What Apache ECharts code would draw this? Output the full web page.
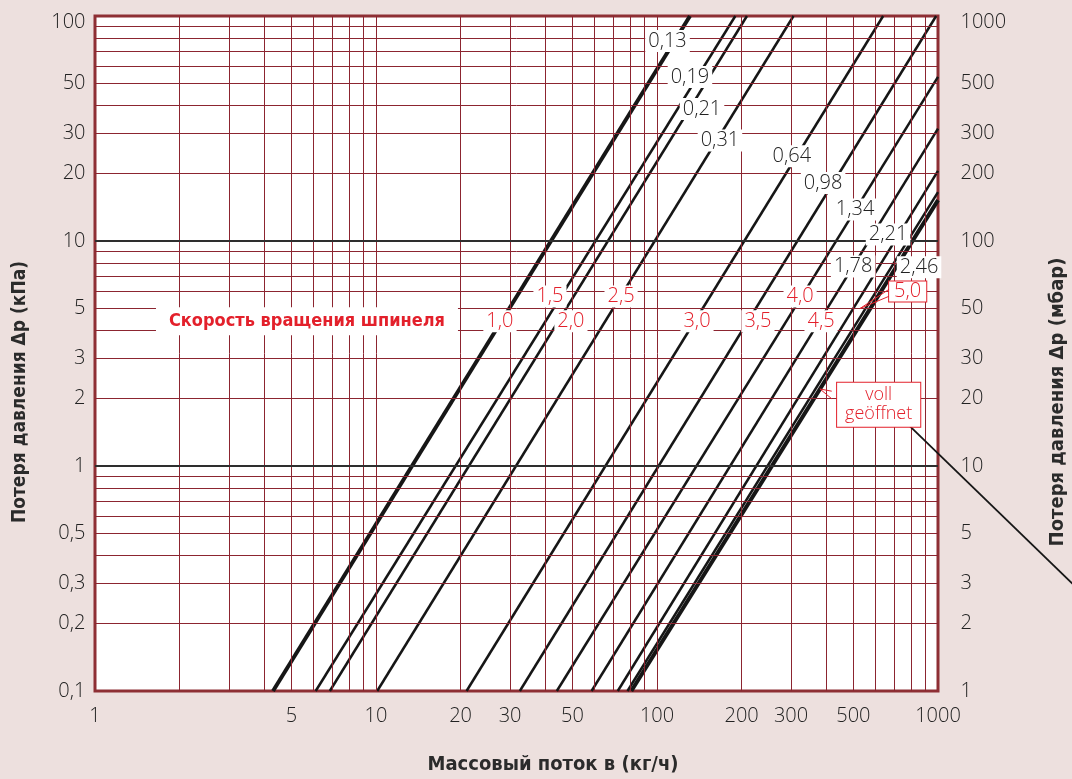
<!DOCTYPE html>
<html><head><meta charset="utf-8">
<script src="https://cdn.jsdelivr.net/npm/echarts@6/dist/echarts.min.js"></script>
<style>html,body{margin:0;padding:0;background:#ede0de;}#c{width:1072px;height:779px;}</style>
</head><body><div id="c"></div>
<script>
// ---- data ----
const xTicks = [1, 5, 10, 20, 30, 50, 100, 200, 300, 500, 1000];
const xTickLabels = ['1', '5', '10', '20', '30', '50', '100', '200', '300', '500', '1000'];
const yLeftTicks = [100, 50, 30, 20, 10, 5, 3, 2, 1, 0.5, 0.3, 0.2, 0.1];
const yLeftLabels = ['100', '50', '30', '20', '10', '5', '3', '2', '1', '0,5', '0,3', '0,2', '0,1'];
const yRightTicks = [1000, 500, 300, 200, 100, 50, 30, 20, 10, 5, 3, 2, 1];
const yRightLabels = ['1000', '500', '300', '200', '100', '50', '30', '20', '10', '5', '3', '2', '1'];

const gridX = [2,3,4,5,6,7,8,9,10,20,30,40,50,60,70,80,90,100,200,300,400,500,600,700,800,900];
const gridY = [0.2,0.3,0.4,0.5,0.6,0.7,0.8,0.9,2,3,4,5,6,7,8,9,20,30,40,50,60,70,80,90];
const gridYDark = [1, 10];

// Kv lines: start and end points (flow kg/h, Δp kPa)
const kvNames = ['0,13', '0,19', '0,21', '0,31', '0,64', '0,98', '1,34', '1,78', '2,21', '2,46', 'voll geöffnet'];
const lineStart = [[4.3,0.1],[6.1,0.1],[6.85,0.1],[10.1,0.1],[21,0.1],[32.5,0.1],[44,0.1],[58.5,0.1],[72.5,0.1],[78.5,0.1],[81,0.1]];
const lineEnd = [[131,100],[190,100],[209,100],[306,100],[638,100],[985,100],[1000,53.6],[1000,31.6],[1000,20.5],[1000,16.5],[1000,15.2]];

// label anchors (flow, Δp)
const kvLabelText = ['0,13', '0,19', '0,21', '0,31', '0,64', '0,98', '1,34', '2,21', '1,78', '2,46'];
const kvLabelPos = [[109,77.4],[131,53.5],[144.6,38.6],[167.5,28.0],[302,23.8],[390,18.1],[507,13.8],[664,10.7],[499,7.71],[856,7.64]];
const turnText = ['1,0', '1,5', '2,0', '2,5', '3,0', '3,5', '4,0', '4,5'];
const turnPos = [[27.6,4.40],[41.6,5.67],[49.4,4.40],[74.5,5.67],[138.8,4.40],[228.7,4.40],[323,5.67],[383.5,4.40]];
const fiveText = '5,0';
const fivePos = [780, 5.96];
const fiveTail = [[669.5,6.10],[527.5,5.01],[669.5,5.68]];
const vollText = 'voll\ngeöffnet';
const vollPos = [615, 1.87];
const vollTail = [[418.6,2.15],[380,2.20],[418.6,1.99]];
const vollLeader = [[782,1.53],[3475,0.252]];
const spindleText = 'Скорость вращения шпинеля';
const spindlePos = [5.68, 4.40];

const xTitle = 'Массовый поток в (кг/ч)';
const yLeftTitle = 'Потеря давления Δp (кПа)';
const yRightTitle = 'Потеря давления Δp (мбар)';

// ---- layout & styles ----
const W = 1072, H = 779;
const GL = 95, GR = 938, GT = 16, GB = 691;
const RED = '#e3202b';
const GRIDRED = '#8c2530';
const NUMFONT = "'Open Sans', 'DejaVu Sans', sans-serif";
const NUMWEIGHT = 300;
const TITLEFONT = "'Liberation Sans Narrow', 'DejaVu Sans Condensed', sans-serif";
const thick = [0, 10];

const series = [];
series.push({
  type: 'line', data: [[1, 0.1]], symbol: 'none', lineStyle: { width: 0 }, silent: true, z: 1,
  markLine: {
    silent: true, symbol: ['none', 'none'], label: { show: false }, animation: false,
    lineStyle: { color: GRIDRED, width: 1, type: 'solid', opacity: 1 },
    emphasis: { disabled: true },
    data: [
      ...gridX.map(v => ({ xAxis: v })),
      ...gridY.map(v => ({ yAxis: v })),
      ...gridYDark.map(v => ({ yAxis: v, lineStyle: { color: '#2e2e2e', width: 1.8, type: 'solid' } }))
    ]
  }
});
lineStart.forEach((p, i) => {
  series.push({
    type: 'line', name: kvNames[i], data: [p, lineEnd[i]], symbol: 'none', silent: true, z: 3,
    lineStyle: { color: '#161616', width: thick.includes(i) ? 4 : 2.5 }
  });
});
// pointers
series.push({ type: 'line', data: fiveTail, symbol: 'none', silent: true, z: 6, lineStyle: { color: RED, width: 1 } });
series.push({ type: 'line', data: vollTail, symbol: 'none', silent: true, z: 6, lineStyle: { color: RED, width: 1 } });
// leader of "voll geöffnet" runs out of the plot: drawn on a full-canvas grid with matching log scales
series.push({ type: 'line', xAxisIndex: 1, yAxisIndex: 2, data: vollLeader, symbol: 'none', silent: true, z: 6, clip: false, lineStyle: { color: '#161616', width: 1.8 } });

function labelSeries(points, texts, label, yAxisIndex, itemLabel) {
  return {
    type: 'scatter', yAxisIndex: yAxisIndex || 0, symbolSize: 1, clip: false, silent: true, z: 10,
    itemStyle: { color: 'rgba(255,255,255,0)', opacity: 1 },
    emphasis: { disabled: true },
    data: points.map((p, i) => ({ value: p, label: Object.assign({ formatter: texts[i] }, itemLabel ? itemLabel(i) : {}) })),
    label: Object.assign({ show: true, opacity: 1, textBorderWidth: 0 }, label)
  };
}
const kvLab = { position: 'inside', color: '#222222', fontSize: 20, fontWeight: NUMWEIGHT, fontFamily: NUMFONT, backgroundColor: '#ffffff', padding: [1, 3] };
series.push(labelSeries(kvLabelPos, kvLabelText, kvLab));
series.push(labelSeries(turnPos, turnText, Object.assign({}, kvLab, { color: RED })));
series.push(labelSeries([fivePos], [fiveText], Object.assign({}, kvLab, { color: RED, borderColor: RED, borderWidth: 1, padding: [0, 5] })));
series.push(labelSeries([vollPos], [vollText], { position: 'inside', color: RED, fontSize: 18, fontWeight: NUMWEIGHT, lineHeight: 19, fontFamily: NUMFONT, backgroundColor: '#ffffff', borderColor: RED, borderWidth: 1, padding: [3, 8], align: 'center' }));
series.push(labelSeries([spindlePos], [spindleText], { position: 'inside', color: RED, fontSize: 18, fontWeight: 'bold', fontFamily: TITLEFONT, backgroundColor: '#ffffff', padding: [5, 13] }));
// tick labels
const tickLab = { color: '#222222', fontSize: 20, fontWeight: NUMWEIGHT, fontFamily: NUMFONT };
const topShift = i => (i === 0 ? { offset: [0, 6] } : {});
series.push(labelSeries(xTicks.map(v => [v, 0.1]), xTickLabels, Object.assign({ position: 'bottom', distance: 15 }, tickLab)));
series.push(labelSeries(yLeftTicks.map(v => [1, v]), yLeftLabels, Object.assign({ position: 'left', distance: 9 }, tickLab), 0, topShift));
series.push(labelSeries(yRightTicks.map(v => [1000, v]), yRightLabels, Object.assign({ position: 'right', distance: 22 }, tickLab), 1, topShift));

const hiddenAxis = { axisLine: { show: false }, axisTick: { show: false }, axisLabel: { show: false }, splitLine: { show: false } };
// full-canvas scales equal to the plot's scales (decade = (GR-GL)/3 px in x, (GB-GT)/3 px in y)
const dx = (GR - GL) / 3, dy = (GB - GT) / 3;
const fullXMin = Math.pow(10, -GL / dx), fullXMax = Math.pow(10, (W - GL) / dx);
const fullYMax = Math.pow(10, 2 + GT / dy), fullYMin = Math.pow(10, 2 - (H - GT) / dy);

const chart = echarts.init(document.getElementById('c'), null, { renderer: 'canvas' });
chart.setOption({
  animation: false,
  backgroundColor: '#ede0de',
  grid: [
    { left: GL, right: W - GR, top: GT, bottom: H - GB, show: true, backgroundColor: '#ffffff', borderColor: '#8e2f34', borderWidth: 3, containLabel: false },
    { left: 0, right: 0, top: 0, bottom: 0, show: false, containLabel: false }
  ],
  xAxis: [
    Object.assign({ type: 'log', logBase: 10, min: 1, max: 1000, gridIndex: 0 }, hiddenAxis),
    Object.assign({ type: 'log', logBase: 10, min: fullXMin, max: fullXMax, gridIndex: 1 }, hiddenAxis)
  ],
  yAxis: [
    Object.assign({ type: 'log', logBase: 10, min: 0.1, max: 100, gridIndex: 0 }, hiddenAxis),
    Object.assign({ type: 'log', logBase: 10, min: 1, max: 1000, position: 'right', gridIndex: 0 }, hiddenAxis),
    Object.assign({ type: 'log', logBase: 10, min: fullYMin, max: fullYMax, gridIndex: 1 }, hiddenAxis)
  ],
  graphic: [
    { type: 'text', x: 553, y: 765, style: { text: xTitle, fill: '#2b2b2b', font: 'bold 20px ' + TITLEFONT, textAlign: 'center', textVerticalAlign: 'middle' } },
    { type: 'text', x: 20, y: 392, rotation: Math.PI / 2, style: { text: yLeftTitle, fill: '#2b2b2b', font: 'bold 19px ' + TITLEFONT, textAlign: 'center', textVerticalAlign: 'middle' } },
    { type: 'text', x: 1058, y: 402, rotation: Math.PI / 2, style: { text: yRightTitle, fill: '#2b2b2b', font: 'bold 20px ' + TITLEFONT, textAlign: 'center', textVerticalAlign: 'middle' } }
  ],
  series: series
});
</script></body></html>
